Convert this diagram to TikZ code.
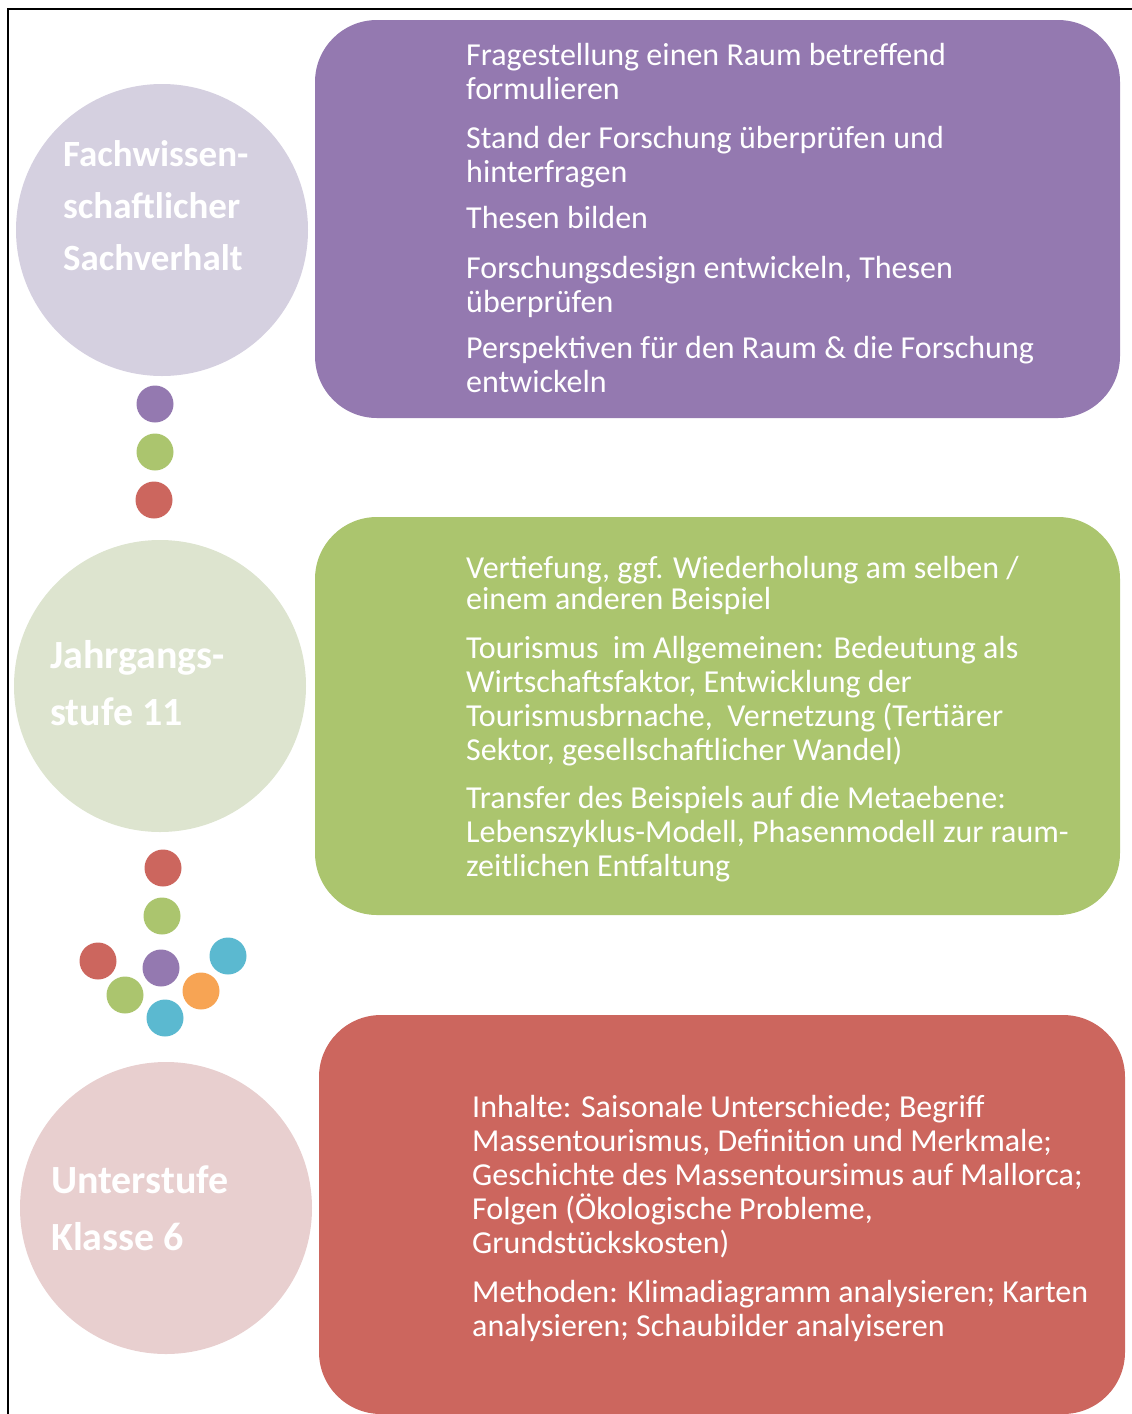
\documentclass[tikz,border=0pt]{standalone}
\usepackage{fontspec}
\setmainfont{Carlito}
\usepackage{xcolor}
\usepackage{tikz}
\usetikzlibrary{positioning}

\definecolor{boxpurple}{RGB}{148,121,176}
\definecolor{boxgreen}{RGB}{171,197,110}
\definecolor{boxred}{RGB}{204,102,94}
\definecolor{circpurple}{RGB}{213,208,224}
\definecolor{circgreen}{RGB}{221,228,207}
\definecolor{circred}{RGB}{232,207,207}
\definecolor{dotcyan}{RGB}{91,185,208}
\definecolor{dotorange}{RGB}{247,164,84}

\begin{document}
\begin{tikzpicture}[x=1pt, y=-1pt,
    bigbox/.style={rectangle, rounded corners=62pt, inner sep=0pt},
    bigcirc/.style={circle, inner sep=0pt, minimum size=292pt},
    dot/.style={circle, inner sep=0pt, minimum size=37pt},
    item/.style={anchor=north west, inner sep=0pt, align=left, text=white,
        font=\fontsize{32}{34}\selectfont},
    label/.style={anchor=north west, inner sep=0pt, align=left, text=white,
        font=\fontsize{40}{57}\selectfont\bfseries}]
    \useasboundingbox (0,0) rectangle (1132,1414);
    \draw[line width=1.6pt] (8,1414) -- (8,9) -- (1132,9);

    % Nodes
    \node (PurpleBox) [bigbox, fill=boxpurple, minimum width=805pt, minimum height=398pt] at (717.5,219) {};
    \node (GreenBox) [bigbox, fill=boxgreen, minimum width=805pt, minimum height=398pt] at (717.5,716) {};
    \node (RedBox) [bigbox, fill=boxred, minimum width=806pt, minimum height=399pt] at (722,1214.5) {};

    \node (Fach) [bigcirc, fill=circpurple] at (162,230) {};
    \node (Jahr) [bigcirc, fill=circgreen] at (160,686) {};
    \node (Unter) [bigcirc, fill=circred] at (166,1208) {};

    \node (FachText) [label, font=\fontsize{37}{52}\selectfont\bfseries] at (63,140) {Fachwissen-\\schaftlicher\\Sachverhalt};
    \node (JahrText) [label] at (50,640) {Jahrgangs-\\stufe 11};
    \node (UnterText) [label] at (51,1165) {Unterstufe\\Klasse 6};

    % dots between the circles
    \node (dotA) [dot, fill=boxpurple] at (155,404) {};
    \node (dotB) [dot, fill=boxgreen] at (155,452) {};
    \node (dotC) [dot, fill=boxred] at (154,500) {};

    \node (dotD) [dot, fill=boxred] at (163,868) {};
    \node (dotE) [dot, fill=boxgreen] at (162,916) {};
    \node (dotF) [dot, fill=boxred] at (98,961) {};
    \node (dotG) [dot, fill=boxpurple] at (161,968) {};
    \node (dotH) [dot, fill=dotcyan] at (228,956) {};
    \node (dotI) [dot, fill=boxgreen] at (125,995) {};
    \node (dotJ) [dot, fill=dotorange] at (201,991) {};
    \node (dotK) [dot, fill=dotcyan] at (165,1018) {};

    % purple box
    \node (FrageItem) [item] at (466,43) {Fragestellung einen Raum betreffend\\formulieren};
    \node (StandItem) [item] at (466,126) {Stand der Forschung überprüfen und\\hinterfragen};
    \node (ThesenItem) [item] at (466,206) {Thesen bilden};
    \node (DesignItem) [item] at (466,256) {Forschungsdesign entwickeln, Thesen\\überprüfen};
    \node (PerspItem) [item] at (466,336) {Perspektiven für den Raum \& die Forschung\\entwickeln};

    % green box
    \node (VertItem) [item] at (466,556) {Vertiefung, ggf. Wiederholung am selben /\\[-3pt]einem anderen Beispiel};
    \node (TourItem) [item] at (466,636) {Tourismus~ im Allgemeinen: Bedeutung als\\Wirtschaftsfaktor, Entwicklung der\\Tourismusbrnache,~ Vernetzung (Tertiärer\\Sektor, gesellschaftlicher Wandel)};
    \node (TransItem) [item] at (466,786) {Transfer des Beispiels auf die Metaebene:\\Lebenszyklus-Modell, Phasenmodell zur raum-\\zeitlichen Entfaltung};

    % red box
    \node (InhaltItem) [item] at (472,1095) {Inhalte: Saisonale Unterschiede; Begriff\\Massentourismus, Definition und Merkmale;\\Geschichte des Massentoursimus auf Mallorca;\\Folgen (Ökologische Probleme,\\Grundstückskosten)};
    \node (MethodItem) [item] at (472,1280) {Methoden: Klimadiagramm analysieren; Karten\\analysieren; Schaubilder analyiseren};
\end{tikzpicture}
\end{document}
